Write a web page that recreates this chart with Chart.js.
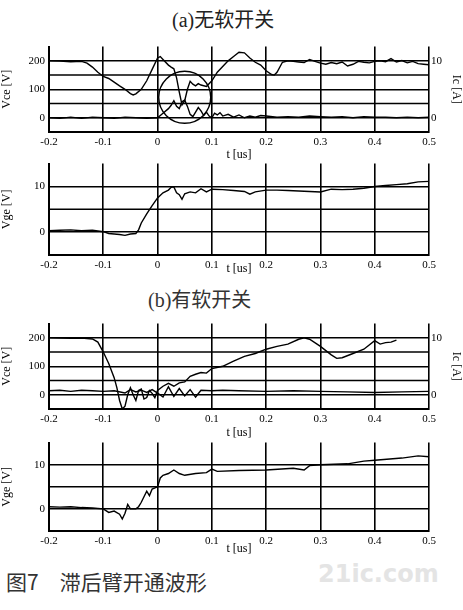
<!DOCTYPE html>
<html><head><meta charset="utf-8">
<script src="https://cdn.jsdelivr.net/npm/chart.js@4"></script>
<style>
body{margin:0;background:#fff;width:463px;height:610px;position:relative;overflow:hidden;font-family:"Liberation Serif",serif}
.p{position:absolute;left:0;width:463px}
.t{position:absolute;font-family:"Liberation Serif","Noto Sans CJK SC",serif;font-size:20px;color:#222}
</style></head><body>
<div class="t" style="left:172px;top:4px">(a)无软开关</div>
<div class="t" style="left:148px;top:284px;color:#333">(b)有软开关</div>
<div class="t" style="left:6px;top:566px;font-family:'Noto Sans CJK SC',sans-serif;font-size:21px;color:#333">图7　滞后臂开通波形</div>
<div class="t" style="left:318px;top:560px;font-family:'DejaVu Sans',sans-serif;font-size:24px;font-weight:bold;color:#e4e4e4">21ic.com</div>
<div class="p" style="top:36px;height:126px"><canvas id="c1"></canvas></div>
<div class="p" style="top:153px;height:123px"><canvas id="c2"></canvas></div>
<div class="p" style="top:313px;height:127px"><canvas id="c3"></canvas></div>
<div class="p" style="top:432px;height:124px"><canvas id="c4"></canvas></div>
<script>
// Panel (a) top: Vce [V]
const a_vce_t=[-0.2,-0.18,-0.16,-0.14,-0.13,-0.12,-0.11,-0.1,-0.09,-0.08,-0.07,-0.06,-0.05,-0.045,-0.04,-0.03,-0.02,-0.01,0,0.005,0.01,0.02,0.025,0.03,0.035,0.04,0.045,0.05,0.055,0.06,0.065,0.07,0.075,0.08,0.09,0.1,0.11,0.12,0.13,0.14,0.15,0.16,0.17,0.18,0.19,0.2,0.21,0.215,0.22,0.23,0.24,0.25,0.26,0.27,0.28,0.29,0.3,0.31,0.32,0.33,0.34,0.35,0.36,0.37,0.38,0.39,0.4,0.41,0.42,0.43,0.44,0.45,0.46,0.47,0.48,0.49,0.5];
const a_vce_v=[200,199,197,198,192,178,160,145,138,125,112,100,85,80,84,100,130,170,210,215,205,185,178,172,140,90,45,60,100,128,118,112,120,115,110,130,160,180,200,215,230,228,210,195,185,165,152,150,160,195,200,198,196,194,205,198,192,188,194,190,196,182,188,198,195,193,198,200,197,208,196,201,193,198,190,188,186];
// Panel (a) top: Ic [A]
const a_ic_t=[-0.2,-0.18,-0.16,-0.14,-0.12,-0.1,-0.08,-0.06,-0.04,-0.02,0,0.01,0.02,0.025,0.03,0.035,0.04,0.045,0.05,0.055,0.06,0.065,0.07,0.075,0.08,0.085,0.09,0.095,0.1,0.105,0.11,0.115,0.12,0.13,0.14,0.15,0.16,0.17,0.18,0.19,0.2,0.22,0.24,0.26,0.28,0.3,0.32,0.34,0.36,0.38,0.4,0.42,0.44,0.46,0.48,0.5];
const a_ic_v=[0,-0.1,0.1,-0.1,0.1,0,-0.1,0.1,0,-0.1,0,0.8,1.6,2.2,3,2,1.6,2.8,3.1,2,0.6,0.2,1,1.8,1.2,0.4,1,0.3,0,0.8,0.5,0.9,0.3,0.6,0.1,0.5,0,0.3,0.1,0.4,0.3,0.1,0.2,0.1,0.3,0.2,0.1,0.2,0,0.2,0.1,0.1,0,0.1,0,0.1];
// Panel (a) bottom: Vge [V]
const a_vge_t=[-0.2,-0.18,-0.16,-0.14,-0.12,-0.1,-0.09,-0.08,-0.07,-0.06,-0.05,-0.04,-0.035,-0.03,-0.02,-0.01,0,0.01,0.02,0.025,0.03,0.035,0.04,0.045,0.05,0.06,0.07,0.08,0.09,0.1,0.12,0.14,0.16,0.17,0.18,0.2,0.22,0.24,0.26,0.28,0.3,0.32,0.34,0.36,0.38,0.4,0.42,0.44,0.46,0.48,0.5];
const a_vge_v=[0.3,0.4,0.5,0.3,0.4,0.1,-0.3,-0.4,-0.5,-0.7,-0.4,-0.3,0.5,2,4,5.8,7.5,8.6,9.2,9.8,9.9,8.6,8.2,7.2,8.4,8.8,8.6,9.5,8.8,9.4,9.3,9.1,8.9,8.3,8.8,9.2,9.2,9.1,9.0,8.9,8.8,9.4,9.3,9.4,9.6,10,10.2,10.4,10.6,11,11.1];
// Panel (b) top: Vce [V]
const b_vce_t=[-0.2,-0.18,-0.16,-0.14,-0.12,-0.11,-0.1,-0.09,-0.08,-0.075,-0.07,-0.065,-0.06,-0.055,-0.05,-0.045,-0.04,-0.035,-0.03,-0.025,-0.02,-0.015,-0.01,-0.005,0,0.01,0.02,0.03,0.04,0.05,0.06,0.07,0.08,0.09,0.1,0.12,0.14,0.16,0.18,0.2,0.22,0.24,0.26,0.27,0.28,0.3,0.32,0.33,0.34,0.36,0.38,0.4,0.41,0.42,0.43,0.44];
const b_vce_v=[200,199,198,199,196,185,150,110,60,25,-20,-50,-40,0,25,0,-20,15,20,-15,-10,15,5,-10,15,30,40,30,42,45,65,72,78,76,92,100,118,135,145,160,170,178,195,200,195,170,140,128,130,145,160,190,178,183,185,192];
// Panel (b) top: Ic [A]
const b_ic_t=[-0.2,-0.18,-0.16,-0.14,-0.12,-0.1,-0.08,-0.06,-0.05,-0.04,-0.03,-0.02,-0.01,0,0.01,0.02,0.03,0.04,0.05,0.06,0.07,0.08,0.1,0.12,0.15,0.2,0.25,0.3,0.35,0.4,0.45,0.5];
const b_ic_v=[0.7,0.8,0.6,0.8,0.7,0.6,0.7,0.3,0.9,0.5,0.8,0.4,0.9,0.3,-0.4,1.4,-0.3,1.1,-0.2,0.9,-0.4,0.8,0.7,0.8,0.7,0.6,0.7,0.6,0.5,0.4,0.5,0.6];
// Panel (b) bottom: Vge [V]
const b_vge_t=[-0.2,-0.18,-0.16,-0.14,-0.12,-0.1,-0.09,-0.08,-0.07,-0.065,-0.06,-0.055,-0.05,-0.04,-0.035,-0.03,-0.02,-0.015,-0.01,0,0.005,0.01,0.02,0.03,0.04,0.05,0.07,0.09,0.1,0.11,0.15,0.2,0.25,0.27,0.28,0.3,0.35,0.38,0.4,0.45,0.48,0.5];
const b_vge_v=[0.5,0.4,0.5,0.3,0.2,0,-0.8,-0.5,-1.2,-2.3,-1,1,0,0,0.5,1.5,4,3,4.5,5,7,7.6,8,8.8,8,7.6,8,8.2,9,8.5,8.7,8.8,9.2,8.8,9.8,10,10.2,10.8,11,11.5,12,11.8];
const xTicks=[-0.2,-0.1,0,0.1,0.2,0.3,0.4,0.5];
const vceGrid=[50,150];
const vgeGrid=[5];
const vceLabels=[0,100,200];
const vgeLabels=[0,10];
const icTicks=[0,10];

const F={family:"'Liberation Serif',serif",size:11};
function pts(t,v){return t.map((x,i)=>({x:x,y:v[i]}));}
function gridPlugin(vals){return {id:'g',beforeDatasetsDraw(c){const y=c.scales.y,a=c.chartArea,ctx=c.ctx;
  ctx.save();ctx.strokeStyle='#000';ctx.lineWidth=1.6;
  vals.forEach(v=>{const p=y.getPixelForValue(v);ctx.beginPath();ctx.moveTo(a.left,p);ctx.lineTo(a.right,p);ctx.stroke();});
  ctx.restore();}};}
function make(id,H,bottom,ymin,ymax,yl,yg,ytitle,sets,right,extra){
  const scales={
    x:{type:'linear',min:-0.2,max:0.5,afterBuildTicks:s=>{s.ticks=xTicks.map(v=>({value:v}))},
       grid:{color:'#000',lineWidth:1.6,drawTicks:false},border:{color:'#000',width:2},
       ticks:{font:F,color:'#000',padding:4,autoSkip:false,maxRotation:0,callback:v=>String(Math.round(v*10)/10)},
       title:{display:true,text:'t [us]',font:{family:F.family,size:12},color:'#000',padding:{top:-2,bottom:0}},
       afterFit:s=>{s.height=H-bottom}},
    y:{type:'linear',min:ymin,max:ymax,afterBuildTicks:s=>{s.ticks=yl.map(v=>({value:v}))},
       ticks:{font:F,color:'#000',padding:4,autoSkip:false,callback:v=>String(v)},
       grid:{color:'#000',lineWidth:1.6,drawTicks:false},border:{color:'#000',width:2},
       title:{display:true,text:ytitle,font:{family:F.family,size:12},color:'#000',padding:0},
       afterFit:s=>{s.width=49}}
  };
  if(right){scales.y2={type:'linear',position:'right',min:-2.5,max:12.5,afterBuildTicks:s=>{s.ticks=icTicks.map(v=>({value:v}))},
       ticks:{font:F,color:'#000',padding:2,autoSkip:false,callback:v=>String(v)},
       grid:{display:false,drawTicks:false},border:{display:false},
       title:{display:true,text:'Ic [A]',font:{family:F.family,size:12},color:'#000',padding:0},afterFit:s=>{s.width=34}};}
  else {scales.y2={type:'linear',position:'right',display:true,ticks:{display:false},grid:{display:false},border:{display:false},afterFit:s=>{s.width=34}};}
  const pl=[gridPlugin(yg)];if(extra)pl.push(extra);
  return new Chart(document.getElementById(id),{type:'line',
    data:{datasets:sets.map(d=>({data:d.data,yAxisID:d.axis||'y',borderColor:'#000',borderWidth:1.4,pointRadius:0,tension:0,fill:false}))},
    options:{responsive:true,maintainAspectRatio:false,animation:false,layout:{padding:0},
      plugins:{legend:{display:false},tooltip:{enabled:false}},scales:scales},
    plugins:pl});
}
const circle={id:'circ',afterDatasetsDraw(c){const x=c.scales.x,y=c.scales.y,ctx=c.ctx;
  ctx.save();ctx.beginPath();ctx.arc(x.getPixelForValue(0.05),y.getPixelForValue(72),26,0,Math.PI*2);
  ctx.strokeStyle='#000';ctx.lineWidth=1.4;ctx.stroke();ctx.restore();}};
make('c1',126,96,-50,250,vceLabels,vceGrid,'Vce [V]',[{data:pts(a_vce_t,a_vce_v)},{data:pts(a_ic_t,a_ic_v),axis:'y2'}],true,circle);
make('c2',123,102,-5,15,vgeLabels,vgeGrid,'Vge [V]',[{data:pts(a_vge_t,a_vge_v)}],false);
make('c3',127,96,-50,250,vceLabels,vceGrid,'Vce [V]',[{data:pts(b_vce_t,b_vce_v)},{data:pts(b_ic_t,b_ic_v),axis:'y2'}],true);
make('c4',124,99,-5,15,vgeLabels,vgeGrid,'Vge [V]',[{data:pts(b_vge_t,b_vge_v)}],false);
</script></body></html>
